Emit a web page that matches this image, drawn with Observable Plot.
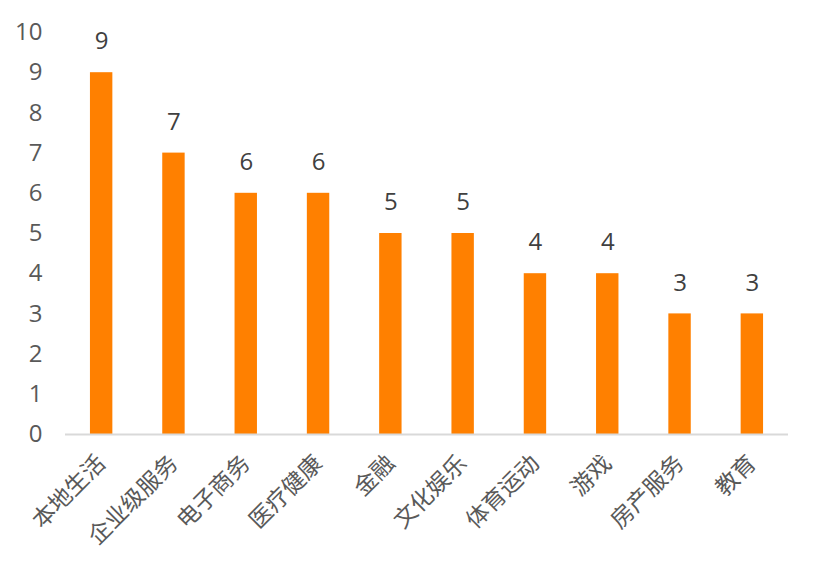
<!DOCTYPE html>
<html><head><meta charset="utf-8">
<script src="https://cdn.jsdelivr.net/npm/d3@7"></script>
<script src="https://cdn.jsdelivr.net/npm/@observablehq/plot@0.6"></script>
<style>body{margin:0;background:#fff;} svg{display:block;}</style>
</head><body><div id="chart"></div>
<script>
const categories = ["本地生活","企业级服务","电子商务","医疗健康","金融","文化娱乐","体育运动","游戏","房产服务","教育"];
const values = [9,7,6,6,5,5,4,4,3,3];
const yTicks = [0,1,2,3,4,5,6,7,8,9,10];
const data = categories.map((c,i)=>({cat:c, v:values[i]}));
const font = "'Open Sans','Noto Sans CJK SC',sans-serif";
const chart = Plot.plot({
  width: 815, height: 571,
  marginLeft: 65, marginRight: 27, marginTop: 32, marginBottom: 137,
  style: {fontFamily: font, fontSize: "22px", color: "#595959", background: "#fff"},
  x: {domain: categories, paddingInner: 0.69, paddingOuter: 0.345, round: false, label: null},
  y: {domain: [0,10], ticks: yTicks, label: null},
  marks: [
    Plot.barY(data, {x:"cat", y:"v", fill:"#FF8000"}),
    Plot.ruleY([0], {stroke:"#D9D9D9", strokeWidth:2}),
    Plot.text(data, {x:"cat", y:"v", text:d=>String(d.v), dy:-31, fill:"#404040", fontSize:24, fontFamily:"'Open Sans',sans-serif"}),
    Plot.axisY({ticks: yTicks, tickSize:0, tickPadding:23, fontSize:24, fill:"#595959", label:null}),
    Plot.axisX({tickSize:0, tickPadding:25, tickRotate:-45, fontSize:23, fill:"#595959", label:null})
  ]
});
document.getElementById("chart").appendChild(chart);
</script></body></html>
